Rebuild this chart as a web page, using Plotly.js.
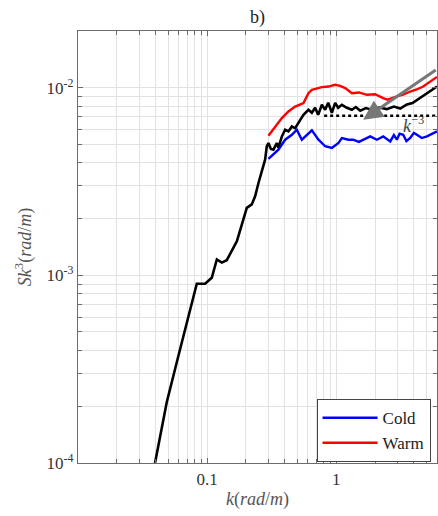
<!DOCTYPE html>
<html><head><meta charset="utf-8">
<script src="https://cdn.plot.ly/plotly-3.0.1.min.js"></script>
<style>body{margin:0;padding:0;background:#fff}#chart{width:438px;height:516px}</style>
</head><body><div id="chart"></div>
<script>
// ---- data ----
const allK = [0.0395,0.0487,0.0599,0.0832,0.0965,0.1087,0.119,0.130,0.142,0.1554,0.170,0.1858,0.203,0.222,0.2355,0.25,0.2655,0.2815,0.290,0.2986,0.312,0.3266,0.3468,0.357,0.3795,0.4025,0.4267,0.4536,0.481,0.526,0.5578,0.61,0.648,0.687,0.725,0.775,0.822,0.867,0.926,0.982,1.036,1.107,1.21,1.323,1.42,1.535,1.7,1.935,2.15,2.47,2.8,3.135,3.53,3.9,4.22,4.6,5.05,5.5,6.04];
const allS = [1.0e-4,2.11e-4,3.72e-4,9.03e-4,9.03e-4,9.72e-4,1.216e-3,1.17e-3,1.205e-3,1.346e-3,1.52e-3,1.867e-3,2.29e-3,2.39e-3,2.64e-3,3.11e-3,3.59e-3,4.14e-3,4.87e-3,5.08e-3,4.72e-3,4.68e-3,5.08e-3,4.78e-3,5.51e-3,5.98e-3,5.86e-3,6.22e-3,6.1e-3,6.76e-3,7.18e-3,7.64e-3,7.36e-3,7.83e-3,7.18e-3,8.12e-3,7.64e-3,8.32e-3,7.36e-3,8.32e-3,7.83e-3,8.12e-3,7.83e-3,7.64e-3,7.9e-3,7.55e-3,7.8e-3,7.6e-3,7.85e-3,7.7e-3,7.95e-3,7.75e-3,8.15e-3,8.3e-3,8.6e-3,8.9e-3,9.35e-3,9.7e-3,1.016e-2];

const warmK = [0.2986,0.3366,0.3795,0.4267,0.481,0.5578,0.61,0.648,0.775,0.871,0.982,1.074,1.175,1.323,1.5,1.73,2.0,2.313,2.5,2.954,3.3,3.746,4.2,4.72,5.355,6.04];
const warmS = [5.56e-3,6.22e-3,6.9e-3,7.48e-3,7.95e-3,8.29e-3,9.37e-3,9.76e-3,1.0086e-2,1.016e-2,1.038e-2,1.025e-2,9.96e-3,9.37e-3,9.45e-3,9.18e-3,9.25e-3,8.81e-3,8.65e-3,9.0e-3,9.2e-3,9.56e-3,9.8e-3,1.016e-2,1.08e-2,1.144e-2];

const coldK = [0.2986,0.357,0.4025,0.4536,0.4957,0.542,0.648,0.729,0.822,0.926,1.042,1.107,1.245,1.354,1.5,1.619,1.835,2.068,2.313,2.622,2.8,2.954,3.1,3.306,3.5,3.746,4.0,4.22,4.6,5.05,5.5,6.04];
const coldS = [4.18e-3,4.68e-3,5.29e-3,5.62e-3,5.98e-3,5.29e-3,5.93e-3,5.29e-3,4.88e-3,4.78e-3,5.08e-3,5.4e-3,5.29e-3,5.29e-3,5.15e-3,5.29e-3,5.51e-3,5.29e-3,5.51e-3,5.18e-3,5.6e-3,5.29e-3,5.7e-3,5.62e-3,5.2e-3,5.4e-3,5.75e-3,5.62e-3,5.4e-3,5.51e-3,5.7e-3,5.86e-3];

const refK = [0.807, 6.04];
const refS = [7.1e-3, 7.1e-3];

const seriesNames = ['Cold', 'Warm'];
const panelLabel = 'b)';
const refLabel = '<i>k</i><sup>−3</sup>';
const xTitle = '<i>k</i>(<i>rad</i>/<i>m</i>)';
const yTitle = '<i>Sk</i><sup>3</sup>(<i>rad</i>/<i>m</i>)';

const xTickVals = [0.1, 1];
const xTickText = ['0.1', '1'];
const yTickVals = [1e-4, 1e-3, 1e-2];
const yTickText = ['10<sup>-4</sup>', '10<sup>-3</sup>', '10<sup>-2</sup>'];
const xDecades = [0.01, 0.1, 1];
const yDecades = [1e-4, 1e-3, 1e-2];

function minorVals(decades, maxV) {
  const vals = [];
  decades.forEach(d => { for (let m = 1; m <= 9; m++) { const v = +(d * m).toPrecision(6); if (v <= maxV) vals.push(v); } });
  return vals;
}
const xMinor = minorVals(xDecades, 6.1);
const yMinor = minorVals(yDecades, 0.021);

const serif = '"Liberation Serif", "Times New Roman", serif';

const traces = [
  {x: allK, y: allS, mode: 'lines', line: {color: '#000', width: 2.6}, showlegend: false, hoverinfo: 'skip'},
  {x: coldK, y: coldS, mode: 'lines', name: seriesNames[0], line: {color: '#0000ff', width: 2.4}},
  {x: warmK, y: warmS, mode: 'lines', name: seriesNames[1], line: {color: '#ff0000', width: 2.4}},
  {x: refK, y: refS, mode: 'lines', line: {color: '#000', width: 2.6, dash: 'dot'}, showlegend: false, hoverinfo: 'skip'}
];

const axisCommon = {
  type: 'log', showline: true, mirror: 'ticks', linecolor: '#6b6b6b', linewidth: 1.2,
  ticks: 'inside', ticklen: 5, tickcolor: '#6b6b6b', showgrid: true, gridcolor: '#e2e2e2', gridwidth: 1,
  zeroline: false, tickfont: {family: serif, size: 17, color: '#333'}, tickmode: 'array'
};

const layout = {
  width: 438, height: 516,
  margin: {l: 78, r: 1, t: 31, b: 53},
  paper_bgcolor: '#fff', plot_bgcolor: '#fff',
  font: {family: serif, color: '#333'},
  xaxis: Object.assign({}, axisCommon, {
    range: [-2, Math.log10(6.04)], tickvals: xTickVals, ticktext: xTickText,
    minor: {tickmode: 'array', tickvals: xMinor, ticks: 'inside', ticklen: 4, tickcolor: '#6b6b6b', showgrid: true, gridcolor: '#e2e2e2', gridwidth: 1},
    title: {text: xTitle, font: {family: serif, size: 18, color: '#555'}, standoff: 4}
  }),
  yaxis: Object.assign({}, axisCommon, {
    range: [-4, -1.697], tickvals: yTickVals, ticktext: yTickText,
    minor: {tickmode: 'array', tickvals: yMinor, ticks: 'inside', ticklen: 4, tickcolor: '#6b6b6b', showgrid: true, gridcolor: '#e2e2e2', gridwidth: 1},
    title: {text: yTitle, font: {family: serif, size: 18, color: '#555'}, standoff: 10}
  }),
  title: {text: panelLabel, font: {family: serif, size: 18, color: '#222'}, x: 0.588, xanchor: 'center', y: 0.967, yanchor: 'middle'},
  legend: {
    x: 0.982, y: 0.002, xanchor: 'right', yanchor: 'bottom',
    bgcolor: '#fff', bordercolor: '#444', borderwidth: 1,
    font: {family: serif, size: 17, color: '#222'}, tracegroupgap: 0, itemwidth: 55
  },
  annotations: [
    {x: 0.2093, y: -2.170, ax: 0.783, ay: -1.899, xref: 'x', yref: 'y', axref: 'x', ayref: 'y',
     showarrow: true, arrowhead: 2, arrowsize: 1.3, arrowwidth: 3, arrowcolor: '#777', text: ''},
    {x: 0.597, y: -2.197, xref: 'x', yref: 'y', text: refLabel, showarrow: false,
     font: {family: serif, size: 18, color: '#444'}}
  ],
  showlegend: true
};

Plotly.newPlot('chart', traces, layout, {displayModeBar: false, staticPlot: true});
</script></body></html>
